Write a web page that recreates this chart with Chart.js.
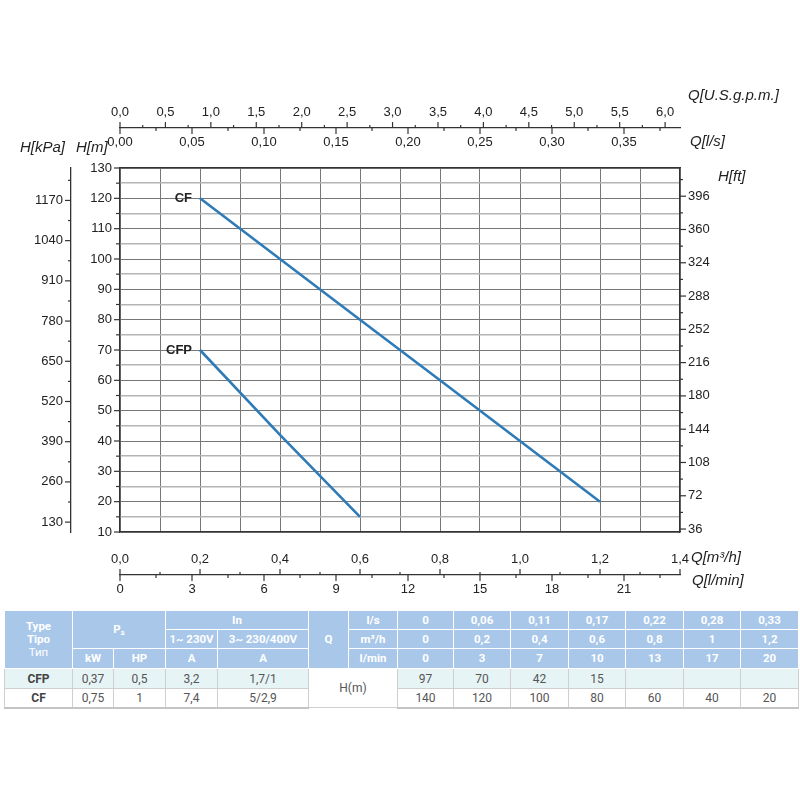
<!DOCTYPE html>
<html>
<head>
<meta charset="utf-8">
<script src="https://cdn.jsdelivr.net/npm/chart.js@4.4.1/dist/chart.umd.min.js"></script>
<style>
  body { margin: 0; background: #fff; }
  #wrap { position: relative; width: 800px; height: 800px; overflow: hidden; }
  #chart { position: absolute; left: 0; top: 0; }
  #tbl { position: absolute; left: 4px; top: 610px; border-collapse: collapse; table-layout: fixed;
         font-family: Roboto, "Open Sans", sans-serif; font-size: 11.5px; }
  #tbl th { background: #a9c7e9; color: #fff; font-weight: bold; border: 1px solid #fff; padding: 0; text-align: center; line-height: 13px; }
  #tbl td { color: #555; border: 1px solid #cfcfcf; border-top: none; padding: 0; text-align: center; font-size: 12px; }
  #tbl tr.cfp td { background: #e7f4f6; }
  #tbl tr.cfp td.hm { background: #fff; }
  #tbl tr.body td.name { font-weight: bold; color: #444; }
  #tbl tr.last td { border-bottom: 2px solid #c4c4c4; }
  #tbl th .nb { font-weight: normal; }
</style>
</head>
<body>
<div id="wrap">
  <canvas id="chart" width="800" height="600"></canvas>
  <table id="tbl"></table>
</div>
<script>
// ---------- chart data (Q in m³/h, H in m) ----------
const flowCF  = [0.2, 0.4, 0.6, 0.8, 1.0, 1.2];
const headCF  = [120, 100, 80, 60, 40, 20];
const flowCFP = [0.2, 0.4, 0.6];
const headCFP = [70, 42, 15];
const curveNames = ['CF', 'CFP'];

// ---------- axis ranges / units ----------
const qMin = 0, qMax = 1.4;        // m³/h
const hMin = 10, hMax = 130;       // m
const M3H_PER_GPM = 0.2271247;
const LMIN_PER_M3H = 1000 / 60;
const LS_PER_M3H = 1 / 3.6;
const KPA_PER_M = 9.80665;
const FT_PER_M = 3.28084;

// ---------- table data ----------
const tblFlowLs   = ['0', '0,06', '0,11', '0,17', '0,22', '0,28', '0,33'];
const tblFlowM3h  = ['0', '0,2', '0,4', '0,6', '0,8', '1', '1,2'];
const tblFlowLmin = ['0', '3', '7', '10', '13', '17', '20'];
const tblHeadCFP  = ['97', '70', '42', '15', '', '', ''];
const tblHeadCF   = ['140', '120', '100', '80', '60', '40', '20'];
const tblModelCFP = ['CFP', '0,37', '0,5', '3,2', '1,7/1'];
const tblModelCF  = ['CF', '0,75', '1', '7,4', '5/2,9'];

// ---------- helpers ----------
const fmt = (v, d) => v.toFixed(d).replace('.', ',');
const isMult = (v, s) => Math.abs(v / s - Math.round(v / s)) < 1e-6;
const tickFont = { family: '"Liberation Sans", Arial, sans-serif', size: 13 };
const tickColor = '#222';
const borderOpt = { display: true, color: '#333', width: 1.3 };

function secTicks(step, pad, cb) {
  return { stepSize: step, autoSkip: false, maxRotation: 0, minRotation: 0, includeBounds: false,
           padding: pad, font: tickFont, color: tickColor, callback: cb };
}

const tickPlugin = {
  id: 'axisDecor',
  afterDraw(chart) {
    const c = chart.ctx, s = chart.scales;
    c.save();
    c.strokeStyle = '#333';
    c.lineWidth = 1.2;
    function marks(scale, linePos, dir, majorStep, majLen, minLen) {
      scale.ticks.forEach(t => {
        const p = scale.getPixelForValue(t.value);
        const len = isMult(t.value, majorStep) ? majLen : minLen;
        c.beginPath();
        if (scale.isHorizontal()) { c.moveTo(p, linePos); c.lineTo(p, linePos + dir * len); }
        else { c.moveTo(linePos, p); c.lineTo(linePos + dir * len, p); }
        c.stroke();
      });
    }
    marks(s.xGpm, s.xGpm.bottom, -1, 0.5, 6, 3);
    marks(s.xLs, s.xGpm.bottom, 1, 0.05, 6, 3);
    marks(s.x, s.xLmin.top, -1, 0.2, 6, 3);
    marks(s.xLmin, s.xLmin.top, 1, 3, 6, 3);
    marks(s.y, s.y.right, -1, 10, 6, 4);
    marks(s.yKpa, s.yKpa.right, -1, 130, 6, 3);
    marks(s.yFt, s.yFt.left, 1, 36, 6, 3);

    // axis titles
    c.fillStyle = '#222';
    c.font = 'italic 15px "Liberation Sans", Arial, sans-serif';
    c.textBaseline = 'middle';
    c.textAlign = 'left';
    c.fillText('H[kPa]', 20, 148);
    c.fillText('H[m]', 76, 148);
    c.fillText('Q[U.S.g.p.m.]', 688, 96);
    c.fillText('Q[l/s]', 690, 142);
    c.fillText('H[ft]', 718, 177);
    c.fillText('Q[m³/h]', 691, 558);
    c.fillText('Q[l/min]', 692, 581);

    // curve names
    c.font = 'bold 13px "Liberation Sans", Arial, sans-serif';
    c.textAlign = 'right';
    chart.data.datasets.forEach((ds, i) => {
      const pt = chart.getDatasetMeta(i).data[0];
      c.fillText(ds.label, pt.x - 8, pt.y);
    });
    c.restore();
  }
};

new Chart(document.getElementById('chart'), {
  type: 'scatter',
  data: {
    datasets: [
      { label: curveNames[0], data: flowCF.map((q, i) => ({ x: q, y: headCF[i] })) },
      { label: curveNames[1], data: flowCFP.map((q, i) => ({ x: q, y: headCFP[i] })) }
    ].map(d => Object.assign(d, { showLine: true, borderColor: '#2e7bb8', borderWidth: 2.6,
        pointRadius: 0, tension: 0, xAxisID: 'x', yAxisID: 'y' }))
  },
  options: {
    responsive: false,
    animation: false,
    layout: { padding: { top: 88, left: 0, right: 0, bottom: 0 } },
    plugins: { legend: { display: false }, tooltip: { enabled: false } },
    scales: {
      x: {
        type: 'linear', axis: 'x', position: 'bottom', weight: 0, min: qMin, max: qMax,
        ticks: secTicks(0.1, 20, v => isMult(v, 0.2) ? fmt(v, 1) : ''),
        grid: { color: '#777', lineWidth: 1, drawTicks: false },
        border: borderOpt,
        afterFit: sc => { sc.height = 43; }
      },
      xLmin: {
        type: 'linear', axis: 'x', position: 'bottom', weight: 1,
        min: qMin * LMIN_PER_M3H, max: qMax * LMIN_PER_M3H,
        ticks: secTicks(1.5, 7, v => isMult(v, 3) ? String(Math.round(v)) : ''),
        grid: { drawOnChartArea: false, drawTicks: false },
        border: borderOpt,
        afterFit: sc => { sc.height = 25; }
      },
      xLs: {
        type: 'linear', axis: 'x', position: 'top', weight: 0,
        min: qMin * LS_PER_M3H, max: qMax * LS_PER_M3H,
        ticks: secTicks(0.025, 18, v => isMult(v, 0.05) ? fmt(v, 2) : ''),
        grid: { drawOnChartArea: false, drawTicks: false },
        border: borderOpt,
        afterFit: sc => { sc.height = 40; }
      },
      xGpm: {
        type: 'linear', axis: 'x', position: 'top', weight: 1,
        min: qMin / M3H_PER_GPM, max: qMax / M3H_PER_GPM,
        ticks: secTicks(0.25, 8, v => isMult(v, 0.5) ? fmt(v, 1) : ''),
        grid: { drawOnChartArea: false, drawTicks: false },
        border: borderOpt,
        afterFit: sc => { sc.height = 40; }
      },
      y: {
        type: 'linear', axis: 'y', position: 'left', weight: 0, min: hMin, max: hMax,
        ticks: secTicks(5, 8, v => isMult(v, 10) ? String(v) : ''),
        grid: {
          drawTicks: false,
          color: ctx => (ctx.tick && isMult(ctx.tick.value, 10)) ? '#777' : '#b4b4b4',
          lineWidth: ctx => (ctx.tick && isMult(ctx.tick.value, 10)) ? 1 : 1.5
        },
        border: borderOpt,
        afterFit: sc => { sc.width = 49; }
      },
      yKpa: {
        type: 'linear', axis: 'y', position: 'left', weight: 1,
        min: hMin * KPA_PER_M, max: hMax * KPA_PER_M,
        ticks: secTicks(65, 8, v => isMult(v, 130) ? String(Math.round(v)) : ''),
        grid: { drawOnChartArea: false, drawTicks: false },
        border: borderOpt,
        afterFit: sc => { sc.width = 71; }
      },
      yFt: {
        type: 'linear', axis: 'y', position: 'right', weight: 0,
        min: hMin * FT_PER_M, max: hMax * FT_PER_M,
        ticks: secTicks(18, 8, v => isMult(v, 36) ? String(Math.round(v)) : ''),
        grid: { drawOnChartArea: false, drawTicks: false },
        border: borderOpt,
        afterFit: sc => { sc.width = 120; }
      }
    }
  },
  plugins: [tickPlugin]
});

// ---------- table ----------
(function buildTable() {
  const widths = [68, 41, 52, 52, 91, 40, 49, 56, 57, 58, 57, 58, 57, 58];
  let h = '<colgroup>' + widths.map(w => `<col style="width:${w}px">`).join('') + '</colgroup>';
  const vals = arr => arr.map(v => `<th>${v}</th>`).join('');
  h += `<tr style="height:19px"><th rowspan="3">Type<br>Tipo<br><span class="nb">Тип</span></th>` +
       `<th colspan="2" rowspan="2">P₂</th><th colspan="2">In</th><th rowspan="3">Q</th><th>l/s</th>${vals(tblFlowLs)}</tr>`;
  h += `<tr style="height:19px"><th>1~ 230V</th><th>3~ 230/400V</th><th>m³/h</th>${vals(tblFlowM3h)}</tr>`;
  h += `<tr style="height:20px"><th>kW</th><th>HP</th><th>A</th><th>A</th><th>l/min</th>${vals(tblFlowLmin)}</tr>`;
  const cells = (arr, first) => arr.map((v, i) => `<td${first && i === 0 ? ' class="name"' : ''}>${v}</td>`).join('');
  h += `<tr class="body cfp" style="height:20px">${cells(tblModelCFP, true)}<td class="hm" colspan="2" rowspan="2">H(m)</td>${cells(tblHeadCFP)}</tr>`;
  h += `<tr class="body last" style="height:19px">${cells(tblModelCF, true)}${cells(tblHeadCF)}</tr>`;
  document.getElementById('tbl').innerHTML = h;
})();
</script>
</body>
</html>
